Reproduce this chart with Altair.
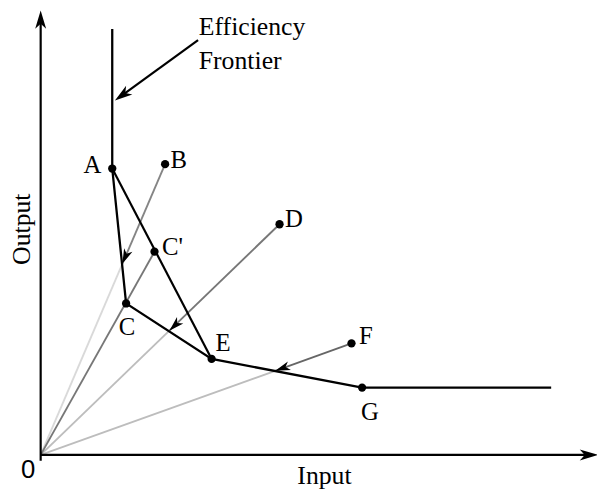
import numpy as np
import pandas as pd
import altair as alt

# ---- data (input / output units, origin at 0,0) ----
labels = ["A", "B", "C'", "C", "D", "E", "F", "G"]
inputs = [72.3, 125.7, 115.0, 86.3, 241.3, 172.7, 314.0, 324.7]
outputs = [289.3, 293.7, 205.3, 153.0, 233.0, 97.0, 112.7, 68.0]

# efficiency frontier polyline (vertical part, A, C, E, G, horizontal part)
frontier_x = [72.3, 72.3, 86.3, 172.7, 324.7, 515.7]
frontier_y = [430.3, 289.3, 153.0, 97.0, 68.0, 68.0]

# projections of B, D, F onto the frontier along rays from the origin
proj_names = ["B", "D", "F"]
proj_x = [82.5, 130.0, 237.0]
proj_y = [193.0, 125.5, 85.0]

# axis extents and annotation anchor
x_axis_end = 563.0
y_axis_end = 449.0
note_lines = ["Efficiency", "Frontier"]
note_tail = (159.0, 419.0)
note_tip = (75.0, 358.0)

pts = dict(zip(labels, zip(inputs, outputs)))
proj = dict(zip(proj_names, zip(proj_x, proj_y)))

xs = alt.Scale(domain=[0, 562], nice=False, zero=False)
ys = alt.Scale(domain=[0, 449], nice=False, zero=False)


def X(f):
    return alt.X(f, type="quantitative", scale=xs, axis=None)


def Y(f):
    return alt.Y(f, type="quantitative", scale=ys, axis=None)


# ---- straight segments ----
seg_rows = []


def seg(p, q, color, w):
    seg_rows.append(dict(x=p[0], y=p[1], x2=q[0], y2=q[1], color=color, w=w))


O = (0.0, 0.0)
# light lower parts of rays
seg(O, proj["B"], "#d9d9d9", 1.9)
seg(O, proj["D"], "#bdbdbd", 1.9)
seg(O, proj["F"], "#bdbdbd", 1.9)
# ray through C to C'
seg(O, pts["C'"], "#777777", 1.9)
# outer parts of rays
seg(pts["B"], proj["B"], "#858585", 1.9)
seg(pts["D"], proj["D"], "#777777", 1.9)
seg(pts["F"], proj["F"], "#666666", 1.9)
# A -> E line through C'
seg(pts["A"], pts["E"], "#000000", 2.2)
# axes
seg((0.0, -6.0), (0.0, y_axis_end - 10), "#000000", 2.2)
seg((0.0, 0.0), (x_axis_end - 10, 0.0), "#000000", 2.2)
# pointer line for the annotation (stops short of the tip)
d = np.array(note_tip) - np.array(note_tail)
u = d / np.linalg.norm(d)
seg(note_tail, tuple(np.array(note_tip) - 8 * u), "#000000", 2.2)
segs = pd.DataFrame(seg_rows)

seg_layer = alt.Chart(segs).mark_rule(strokeCap="butt").encode(
    x=X("x"), y=Y("y"), x2="x2:Q", y2="y2:Q",
    color=alt.Color("color:N", scale=None),
    strokeWidth=alt.StrokeWidth("w:Q", scale=None),
)

# ---- frontier ----
fr = pd.DataFrame({"x": frontier_x, "y": frontier_y, "o": range(len(frontier_x))})
frontier_layer = alt.Chart(fr).mark_line(color="black", strokeWidth=2.3, strokeJoin="miter").encode(
    x=X("x"), y=Y("y"), order="o:Q"
)

# ---- points ----
pdf = pd.DataFrame({"x": inputs, "y": outputs, "label": labels})
point_layer = alt.Chart(pdf).mark_circle(size=70, color="black", opacity=1).encode(
    x=X("x"), y=Y("y")
)

# ---- arrowheads ----
arr_rows = []
for n in proj_names:
    arr_rows.append(dict(x=proj[n][0], y=proj[n][1], tx=pts[n][0], ty=pts[n][1], size=230))
arr_rows.append(dict(x=note_tip[0], y=note_tip[1], tx=note_tail[0], ty=note_tail[1], size=320))
arr_rows.append(dict(x=0.0, y=y_axis_end, tx=0.0, ty=0.0, size=340))
arr_rows.append(dict(x=x_axis_end, y=0.0, tx=0.0, ty=0.0, size=340))
arr = pd.DataFrame(arr_rows)
arr["angle"] = np.degrees(np.arctan2(arr["x"] - arr["tx"], arr["y"] - arr["ty"])) % 360

arrow_path = "M0,0 L0.6,2 L0,1.45 L-0.6,2 Z"
arrow_layer = alt.Chart(arr).mark_point(
    shape=arrow_path, filled=True, color="black", opacity=1, strokeWidth=0.6
).encode(
    x=X("x"), y=Y("y"),
    size=alt.Size("size:Q", scale=None),
    angle=alt.Angle("angle:Q", scale=None),
)

# ---- labels ----
offsets = {  # label: (dx, dy_down, align)
    "A": (-11, 4.5, "right"),
    "B": (5.5, 3.5, "left"),
    "C'": (7.5, 3.5, "left"),
    "C": (1, 32, "center"),
    "D": (5.5, 3, "left"),
    "E": (4, -8.3, "left"),
    "F": (7.5, 0.7, "left"),
    "G": (8, 33, "center"),
}
lab_rows = []
for name, (px, py) in zip(labels, zip(inputs, outputs)):
    dx, dy, al = offsets[name]
    lab_rows.append(dict(x=px + dx, y=py - dy, text=name, al=al))
labs = pd.DataFrame(lab_rows)

serif = "Liberation Serif"
label_layers = []
for al in ["left", "right", "center"]:
    sub = labs[labs["al"] == al]
    label_layers.append(
        alt.Chart(sub).mark_text(
            align=al, baseline="alphabetic", font=serif, fontSize=25, color="black"
        ).encode(x=X("x"), y=Y("y"), text="text:N")
    )

note = pd.DataFrame({"x": [159.7, 159.7], "y": [424.0, 390.0], "text": note_lines})
note_layer = alt.Chart(note).mark_text(
    align="left", baseline="alphabetic", font=serif, fontSize=26, color="black"
).encode(x=X("x"), y=Y("y"), text="text:N")

xt = pd.DataFrame({"x": [286.7], "y": [-29.0], "text": ["Input"]})
xtitle = alt.Chart(xt).mark_text(
    align="center", baseline="alphabetic", font=serif, fontSize=26, color="black"
).encode(x=X("x"), y=Y("y"), text="text:N")

yt = pd.DataFrame({"x": [-11.0], "y": [228.0], "text": ["Output"]})
ytitle = alt.Chart(yt).mark_text(
    align="center", baseline="alphabetic", font=serif, fontSize=26, angle=270, color="black"
).encode(x=X("x"), y=Y("y"), text="text:N")

zt = pd.DataFrame({"x": [-12.7], "y": [-23.0], "text": ["0"]})
zero_layer = alt.Chart(zt).mark_text(
    align="center", baseline="alphabetic", font="Liberation Sans", fontSize=26, color="black"
).encode(x=X("x"), y=Y("y"), text="text:N")

chart = alt.layer(
    seg_layer, frontier_layer, point_layer, arrow_layer,
    *label_layers, note_layer, xtitle, ytitle, zero_layer
).properties(
    width=562, height=449,
    padding={"left": 33, "top": 0, "right": 0, "bottom": 34},
    autosize=alt.AutoSizeParams(type="none"),
    background="white",
).configure_view(stroke=None)

chart.save("out.html", embed_options={"renderer": "svg", "actions": False})
